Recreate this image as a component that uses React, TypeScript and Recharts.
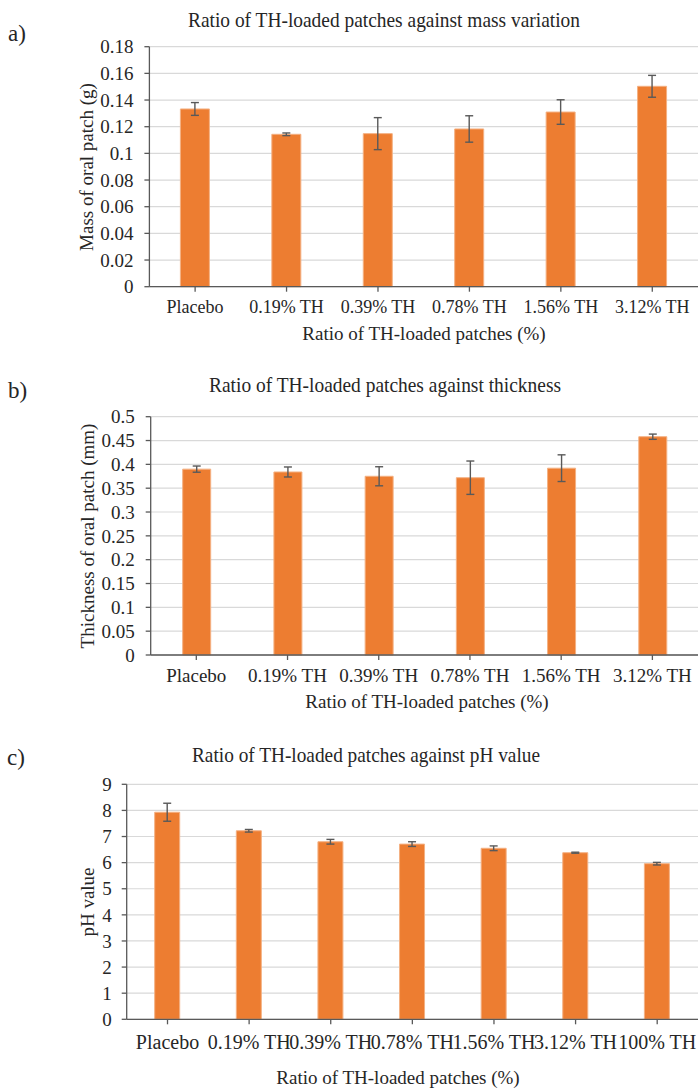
import React from "react";
import { BarChart, Bar, XAxis, YAxis, CartesianGrid, ErrorBar } from "recharts";

// categories
const categoriesAB = ["Placebo", "0.19% TH", "0.39% TH", "0.78% TH", "1.56% TH", "3.12% TH"];
const categoriesC = ["Placebo", "0.19% TH", "0.39% TH", "0.78% TH", "1.56% TH", "3.12% TH", "100% TH"];

// a) mass (g)
const massValues = [0.1333, 0.1143, 0.1148, 0.1183, 0.131, 0.1503];
const massErrors = [0.0048, 0.001, 0.012, 0.0099, 0.0092, 0.0082];
const massTicks = [0, 0.02, 0.04, 0.06, 0.08, 0.1, 0.12, 0.14, 0.16, 0.18];

// b) thickness (mm)
const thicknessValues = [0.39, 0.384, 0.375, 0.372, 0.392, 0.458];
const thicknessErrors = [0.0065, 0.0105, 0.02, 0.035, 0.028, 0.0055];
const thicknessTicks = [0, 0.05, 0.1, 0.15, 0.2, 0.25, 0.3, 0.35, 0.4, 0.45, 0.5];

// c) pH
const phValues = [7.93, 7.22, 6.8, 6.71, 6.55, 6.38, 5.96];
const phErrors = [0.345, 0.05, 0.09, 0.09, 0.09, 0.02, 0.05];
const phTicks = [0, 1, 2, 3, 4, 5, 6, 7, 8, 9];

const FONT = "'Liberation Serif', 'Times New Roman', serif";
const TEXT = "#262626";
const ORANGE = "#ED7D31";
const AXIS = "#595959";

function toRows(cats: string[], vals: number[], errs: number[]) {
  return cats.map((c, i) => ({ name: c, value: vals[i], err: errs[i] }));
}

interface PanelProps {
  top: number;
  height: number;
  plotTop: number;
  plotBottom: number;
  plotLeft: number;
  rows: { name: string; value: number; err: number }[];
  ticks: number[];
  barSize: number;
  xFont: number;
  xMargin: number;
  yMargin: number;
}

function Panel(p: PanelProps) {
  const xAxisHeight = 30;
  return (
    <div style={{ position: "absolute", left: 0, top: p.top }}>
      <BarChart
        width={698}
        height={p.height}
        data={p.rows}
        margin={{ top: p.plotTop, right: 0, left: 0, bottom: p.height - p.plotBottom - xAxisHeight }}
      >
        <CartesianGrid vertical={false} stroke="#d9d9d9" strokeWidth={1.2} />
        <XAxis
          dataKey="name"
          height={xAxisHeight}
          interval={0}
          tickSize={5}
          tickMargin={p.xMargin}
          axisLine={{ stroke: AXIS, strokeWidth: 1.3 }}
          tickLine={{ stroke: AXIS, strokeWidth: 1.3 }}
          tick={{ fontSize: p.xFont, fill: TEXT, fontFamily: FONT }}
        />
        <YAxis
          width={p.plotLeft}
          domain={[0, p.ticks[p.ticks.length - 1]]}
          ticks={p.ticks}
          interval={0}
          tickSize={5}
          tickMargin={p.yMargin}
          axisLine={{ stroke: AXIS, strokeWidth: 1.3 }}
          tickLine={{ stroke: AXIS, strokeWidth: 1.3 }}
          tick={{ fontSize: 19, fill: TEXT, fontFamily: FONT }}
        />
        <Bar dataKey="value" fill={ORANGE} stroke="#F4B183" strokeWidth={1} barSize={p.barSize} isAnimationActive={false}>
          <ErrorBar dataKey="err" width={4} stroke={AXIS} strokeWidth={1.4} isAnimationActive={false} />
        </Bar>
      </BarChart>
    </div>
  );
}

export default function App() {
  return (
    <div style={{ position: "absolute", left: 0, top: 0, width: 698, height: 1088, background: "#fff" }}>
      <Panel
        top={0}
        height={360}
        plotTop={46.7}
        plotBottom={286.7}
        plotLeft={149.4}
        rows={toRows(categoriesAB, massValues, massErrors)}
        ticks={massTicks}
        barSize={29}
        xFont={18}
        xMargin={9}
        yMargin={11}
      />
      <Panel
        top={360}
        height={360}
        plotTop={56.7}
        plotBottom={295}
        plotLeft={150.7}
        rows={toRows(categoriesAB, thicknessValues, thicknessErrors)}
        ticks={thicknessTicks}
        barSize={28}
        xFont={19}
        xMargin={9}
        yMargin={11}
      />
      <Panel
        top={720}
        height={368}
        plotTop={64.3}
        plotBottom={299.3}
        plotLeft={126.7}
        rows={toRows(categoriesC, phValues, phErrors)}
        ticks={phTicks}
        barSize={25}
        xFont={20}
        xMargin={10}
        yMargin={10}
      />
      <svg
        width={698}
        height={1088}
        style={{ position: "absolute", left: 0, top: 0, pointerEvents: "none" }}
        fontFamily={FONT}
        fill={TEXT}
      >
        {/* panel letters */}
        <text x={8} y={41} fontSize={23}>a)</text>
        <text x={8} y={398} fontSize={23}>b)</text>
        <text x={7} y={765} fontSize={23}>c)</text>

        {/* chart titles */}
        <text x={384} y={27} fontSize={22} textAnchor="middle" textLength={392} lengthAdjust="spacingAndGlyphs">
          Ratio of TH-loaded patches against mass variation
        </text>
        <text x={385} y={392} fontSize={22} textAnchor="middle" textLength={352} lengthAdjust="spacingAndGlyphs">
          Ratio of TH-loaded patches against thickness
        </text>
        <text x={366} y={762} fontSize={22} textAnchor="middle" textLength={348} lengthAdjust="spacingAndGlyphs">
          Ratio of TH-loaded patches against pH value
        </text>

        {/* y axis titles */}
        <text x={86} y={167} fontSize={19} textAnchor="middle" dominantBaseline="central" transform="rotate(-90 86 167)">
          Mass of oral patch (g)
        </text>
        <text x={87} y={536} fontSize={19} textAnchor="middle" dominantBaseline="central" transform="rotate(-90 87 536)">
          Thickness of oral patch (mm)
        </text>
        <text x={87} y={902} fontSize={19} textAnchor="middle" dominantBaseline="central" transform="rotate(-90 87 902)">
          pH value
        </text>

        {/* x axis titles */}
        <text x={424} y={340} fontSize={19} textAnchor="middle">Ratio of TH-loaded patches (%)</text>
        <text x={427} y={708} fontSize={19} textAnchor="middle">Ratio of TH-loaded patches (%)</text>
        <text x={398} y={1084} fontSize={19} textAnchor="middle">Ratio of TH-loaded patches (%)</text>
      </svg>
    </div>
  );
}
